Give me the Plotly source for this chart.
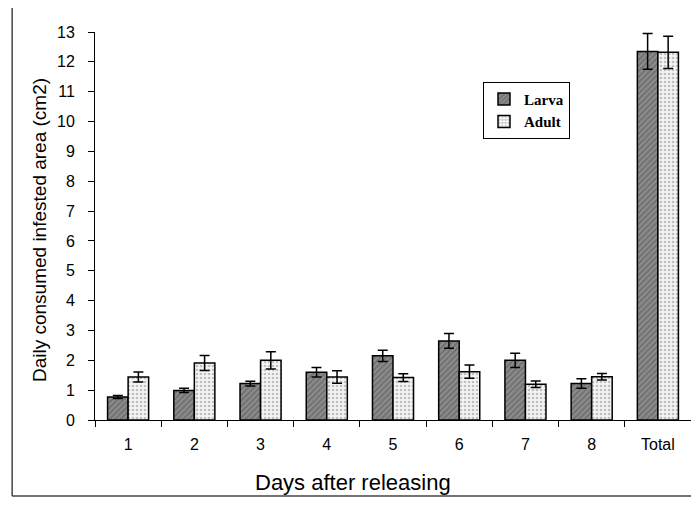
import plotly.graph_objects as go

categories = ["1", "2", "3", "4", "5", "6", "7", "8", "Total"]
larva = [0.77, 0.99, 1.22, 1.60, 2.15, 2.65, 2.00, 1.22, 12.35]
larva_err = [0.05, 0.07, 0.08, 0.16, 0.19, 0.25, 0.24, 0.16, 0.60]
adult = [1.44, 1.91, 2.00, 1.44, 1.42, 1.62, 1.20, 1.45, 12.32]
adult_err = [0.17, 0.25, 0.29, 0.21, 0.13, 0.22, 0.11, 0.11, 0.54]
y_ticks = list(range(0, 14))

fig = go.Figure()
fig.add_trace(go.Bar(
    name="Larva", x=categories, y=larva,
    error_y=dict(type="data", array=larva_err, color="black", thickness=1.5, width=5),
    marker=dict(color="#808080", line=dict(color="black", width=1.5),
                pattern=dict(shape="/", fgcolor="#505050", bgcolor="#8c8c8c", size=4, solidity=0.45)),
))
fig.add_trace(go.Bar(
    name="Adult", x=categories, y=adult,
    error_y=dict(type="data", array=adult_err, color="black", thickness=1.5, width=5),
    marker=dict(color="#eeeeee", line=dict(color="black", width=1.5),
                pattern=dict(shape=".", fgcolor="#8a8a8a", bgcolor="#f4f4f4", size=4, solidity=0.35)),
))

frame = dict(color="#444444", width=1.5)

# page body has an 8px margin on every side; keep the figure inside the window (no scrollbars)
fig.update_layout(
    width=683, height=489,
    margin=dict(l=87, r=0, t=24, b=77),
    paper_bgcolor="white", plot_bgcolor="white",
    barmode="group", bargap=0.38, bargroupgap=0.0,
    font=dict(family="Liberation Sans, Arial", color="black", size=16),
    legend=dict(
        x=0.651, y=0.872, xanchor="left", yanchor="top",
        bordercolor="black", borderwidth=1, bgcolor="white",
        font=dict(family="Liberation Serif, Times New Roman", size=15, color="black", weight="bold"),
        tracegroupgap=2, itemwidth=30,
    ),
    xaxis=dict(
        showline=True, linecolor="black", linewidth=1,
        ticks="outside", tickson="boundaries", ticklen=6, tickcolor="black",
        tickfont=dict(size=16), ticklabelstandoff=10,
        showgrid=False,
    ),
    yaxis=dict(
        range=[0, 13], tickvals=y_ticks,
        showline=True, linecolor="black", linewidth=1,
        ticks="outside", ticklen=6, tickcolor="black",
        tickfont=dict(size=16), ticklabelstandoff=10,
        showgrid=False, zeroline=False,
    ),
    annotations=[
        dict(text="Days after releasing", xref="paper", yref="paper",
             x=0.433, y=-0.162, xanchor="center", yanchor="middle",
             showarrow=False, font=dict(size=22)),
        dict(text="Daily consumed infested area (cm2)", xref="paper", yref="paper",
             x=-0.092, y=0.49, xanchor="center", yanchor="middle", textangle=-90,
             showarrow=False, font=dict(size=19)),
    ],
    shapes=[
        dict(type="line", xref="paper", yref="paper", x0=-0.139, x1=-0.139, y0=-0.196, y1=1.067, line=frame),
        dict(type="line", xref="paper", yref="paper", x0=-0.139, x1=1.05, y0=1.067, y1=1.067, line=frame),
        dict(type="line", xref="paper", yref="paper", x0=-0.139, x1=1.05, y0=-0.196, y1=-0.196, line=frame),
    ],
)

fig.write_html("out.html")
